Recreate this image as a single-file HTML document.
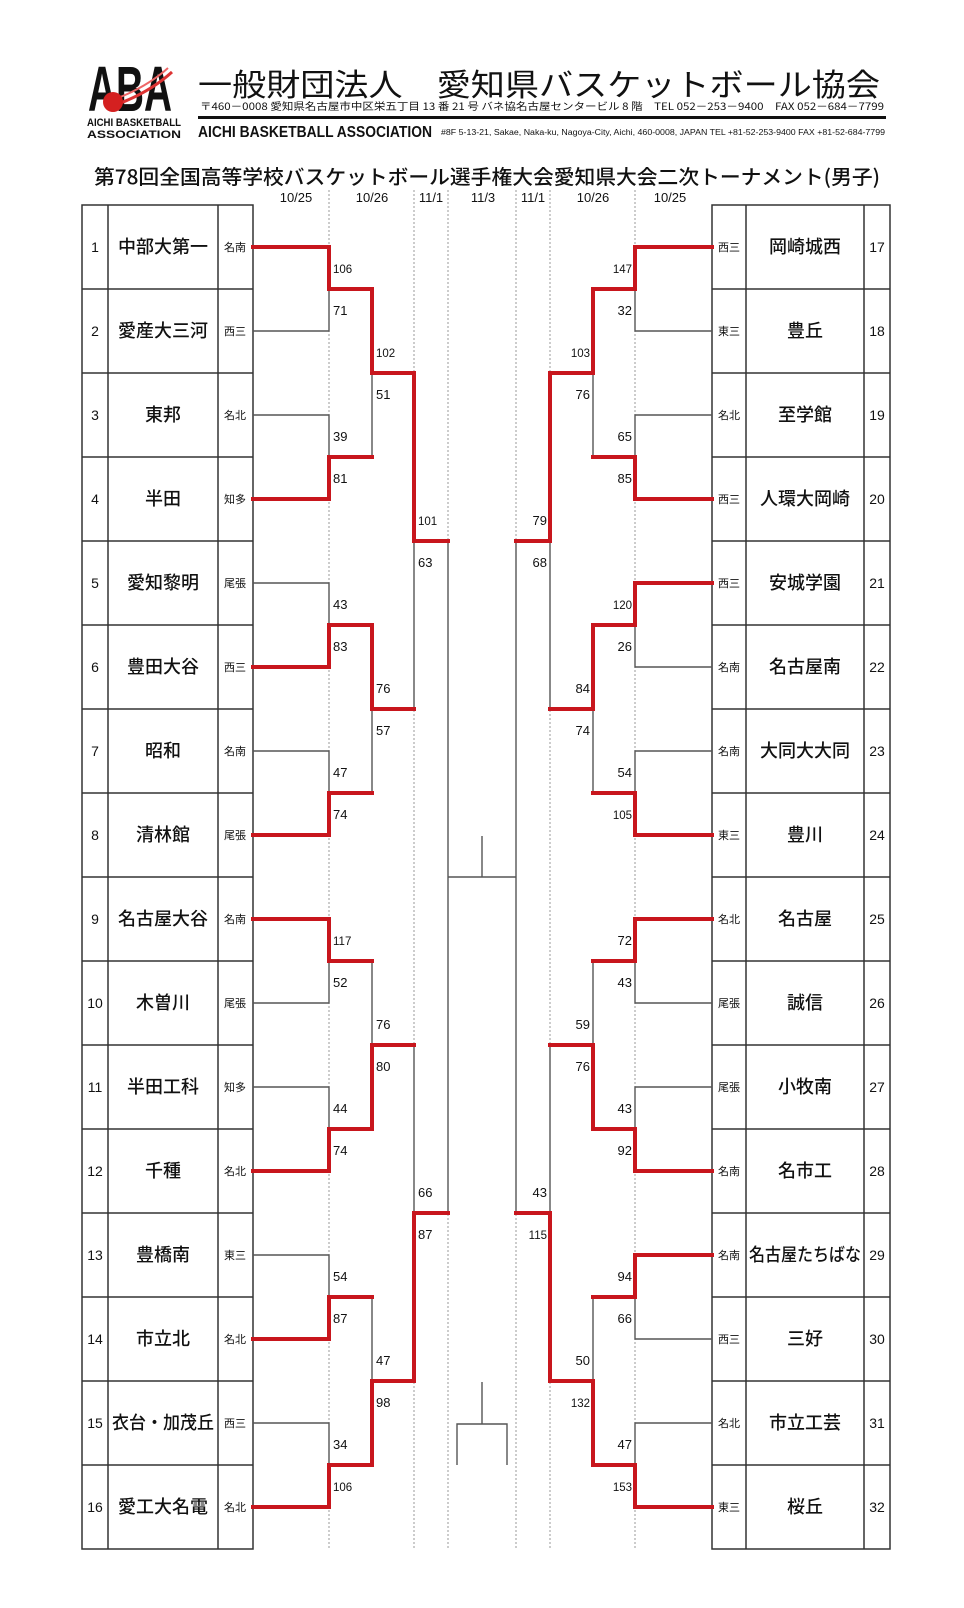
<!DOCTYPE html>
<html><head><meta charset="utf-8"><style>
html,body{margin:0;padding:0;background:#fff;}
svg{display:block;}
text{font-family:"Liberation Sans","Noto Sans CJK JP",sans-serif;fill:#111;}
.j{font-family:"Noto Sans CJK JP","WenQuanYi Zen Hei",sans-serif;}
.g{stroke:#555;stroke-width:1.4;fill:none;}
.r{stroke:#c8161d;stroke-width:4;fill:none;stroke-linecap:square;}
.d{stroke:#999;stroke-width:1;stroke-dasharray:2,2;}
.t{stroke:#333;stroke-width:1.5;fill:none;}
.nm{font-size:18px;font-weight:500;text-anchor:middle;}
.no{font-size:14px;text-anchor:middle;}
.rg{font-size:11px;text-anchor:middle;}
.s{font-size:13px;}
.s3{font-size:11.5px;}
.e{text-anchor:end;}
.h{font-size:13px;text-anchor:middle;}
</style></head><body>
<svg width="964" height="1608" viewBox="0 0 964 1608" xmlns="http://www.w3.org/2000/svg">
<!-- logo -->
<text x="88" y="111" font-size="64" font-weight="bold" textLength="84" lengthAdjust="spacingAndGlyphs" style="font-family:'Liberation Sans',sans-serif">ABA</text>
<path d="M118 104 Q150 92 172 72" stroke="#d33" stroke-width="3" fill="none"/>
<path d="M118 98 Q148 86 168 68" stroke="#e66" stroke-width="2" fill="none"/>
<circle cx="113" cy="102" r="10" fill="#d42020"/>
<text x="87" y="126" font-size="11" font-weight="bold" textLength="94" lengthAdjust="spacingAndGlyphs">AICHI BASKETBALL</text>
<text x="87" y="138" font-size="11" font-weight="bold" textLength="94" lengthAdjust="spacingAndGlyphs">ASSOCIATION</text>
<!-- header -->
<text class="j" x="198" y="96" font-size="31" textLength="682" lengthAdjust="spacingAndGlyphs">一般財団法人　愛知県バスケットボール協会</text>
<text class="j" x="200" y="110" font-size="10" textLength="684" lengthAdjust="spacingAndGlyphs">〒460－0008 愛知県名古屋市中区栄五丁目 13 番 21 号 バネ協名古屋センタービル 8 階　TEL 052－253－9400　FAX 052－684－7799</text>
<rect x="198" y="116" width="688" height="3" fill="#111"/>
<text x="198" y="137" font-size="16" font-weight="bold" textLength="234" lengthAdjust="spacingAndGlyphs">AICHI BASKETBALL ASSOCIATION</text>
<text x="441" y="135" font-size="8" textLength="444" lengthAdjust="spacingAndGlyphs">#8F 5-13-21, Sakae, Naka-ku, Nagoya-City, Aichi, 460-0008, JAPAN TEL +81-52-253-9400 FAX +81-52-684-7799</text>
<text class="j" x="94" y="184" font-size="20" font-weight="500" textLength="786" lengthAdjust="spacingAndGlyphs">第78回全国高等学校バスケットボール選手権大会愛知県大会二次トーナメント(男子)</text>
<text class="h" x="296" y="202">10/25</text>
<text class="h" x="372" y="202">10/26</text>
<text class="h" x="431" y="202">11/1</text>
<text class="h" x="483" y="202">11/3</text>
<text class="h" x="533" y="202">11/1</text>
<text class="h" x="593" y="202">10/26</text>
<text class="h" x="670" y="202">10/25</text>
<!-- dotted -->
<line class="d" x1="329" y1="190" x2="329" y2="1550"/>
<line class="d" x1="414" y1="190" x2="414" y2="1550"/>
<line class="d" x1="448" y1="190" x2="448" y2="1550"/>
<line class="d" x1="516" y1="190" x2="516" y2="1550"/>
<line class="d" x1="550" y1="190" x2="550" y2="1550"/>
<line class="d" x1="635" y1="190" x2="635" y2="1550"/>
<!-- left table -->
<rect class="t" x="82" y="205" width="171" height="1344"/>
<line class="t" x1="108" y1="205" x2="108" y2="1549"/>
<line class="t" x1="218" y1="205" x2="218" y2="1549"/>
<path class="t" d="M82 289H253M82 373H253M82 457H253M82 541H253M82 625H253M82 709H253M82 793H253M82 877H253M82 961H253M82 1045H253M82 1129H253M82 1213H253M82 1297H253M82 1381H253M82 1465H253"/>
<!-- right table -->
<rect class="t" x="712" y="205" width="178" height="1344"/>
<line class="t" x1="746" y1="205" x2="746" y2="1549"/>
<line class="t" x1="864" y1="205" x2="864" y2="1549"/>
<path class="t" d="M712 289H890M712 373H890M712 457H890M712 541H890M712 625H890M712 709H890M712 793H890M712 877H890M712 961H890M712 1045H890M712 1129H890M712 1213H890M712 1297H890M712 1381H890M712 1465H890"/>
<!-- left texts -->
<g class="j">
<text class="no" x="95" y="252">1</text><text class="nm" x="163" y="253">中部大第一</text><text class="rg" x="235" y="251">名南</text>
<text class="no" x="95" y="336">2</text><text class="nm" x="163" y="337">愛産大三河</text><text class="rg" x="235" y="335">西三</text>
<text class="no" x="95" y="420">3</text><text class="nm" x="163" y="421">東邦</text><text class="rg" x="235" y="419">名北</text>
<text class="no" x="95" y="504">4</text><text class="nm" x="163" y="505">半田</text><text class="rg" x="235" y="503">知多</text>
<text class="no" x="95" y="588">5</text><text class="nm" x="163" y="589">愛知黎明</text><text class="rg" x="235" y="587">尾張</text>
<text class="no" x="95" y="672">6</text><text class="nm" x="163" y="673">豊田大谷</text><text class="rg" x="235" y="671">西三</text>
<text class="no" x="95" y="756">7</text><text class="nm" x="163" y="757">昭和</text><text class="rg" x="235" y="755">名南</text>
<text class="no" x="95" y="840">8</text><text class="nm" x="163" y="841">清林館</text><text class="rg" x="235" y="839">尾張</text>
<text class="no" x="95" y="924">9</text><text class="nm" x="163" y="925">名古屋大谷</text><text class="rg" x="235" y="923">名南</text>
<text class="no" x="95" y="1008">10</text><text class="nm" x="163" y="1009">木曽川</text><text class="rg" x="235" y="1007">尾張</text>
<text class="no" x="95" y="1092">11</text><text class="nm" x="163" y="1093">半田工科</text><text class="rg" x="235" y="1091">知多</text>
<text class="no" x="95" y="1176">12</text><text class="nm" x="163" y="1177">千種</text><text class="rg" x="235" y="1175">名北</text>
<text class="no" x="95" y="1260">13</text><text class="nm" x="163" y="1261">豊橋南</text><text class="rg" x="235" y="1259">東三</text>
<text class="no" x="95" y="1344">14</text><text class="nm" x="163" y="1345">市立北</text><text class="rg" x="235" y="1343">名北</text>
<text class="no" x="95" y="1428">15</text><text class="nm" x="163" y="1429" textLength="102" lengthAdjust="spacingAndGlyphs">衣台・加茂丘</text><text class="rg" x="235" y="1427">西三</text>
<text class="no" x="95" y="1512">16</text><text class="nm" x="163" y="1513">愛工大名電</text><text class="rg" x="235" y="1511">名北</text>
<!-- right texts -->
<text class="rg" x="729" y="251">西三</text><text class="nm" x="805" y="253">岡崎城西</text><text class="no" x="877" y="252">17</text>
<text class="rg" x="729" y="335">東三</text><text class="nm" x="805" y="337">豊丘</text><text class="no" x="877" y="336">18</text>
<text class="rg" x="729" y="419">名北</text><text class="nm" x="805" y="421">至学館</text><text class="no" x="877" y="420">19</text>
<text class="rg" x="729" y="503">西三</text><text class="nm" x="805" y="505">人環大岡崎</text><text class="no" x="877" y="504">20</text>
<text class="rg" x="729" y="587">西三</text><text class="nm" x="805" y="589">安城学園</text><text class="no" x="877" y="588">21</text>
<text class="rg" x="729" y="671">名南</text><text class="nm" x="805" y="673">名古屋南</text><text class="no" x="877" y="672">22</text>
<text class="rg" x="729" y="755">名南</text><text class="nm" x="805" y="757">大同大大同</text><text class="no" x="877" y="756">23</text>
<text class="rg" x="729" y="839">東三</text><text class="nm" x="805" y="841">豊川</text><text class="no" x="877" y="840">24</text>
<text class="rg" x="729" y="923">名北</text><text class="nm" x="805" y="925">名古屋</text><text class="no" x="877" y="924">25</text>
<text class="rg" x="729" y="1007">尾張</text><text class="nm" x="805" y="1009">誠信</text><text class="no" x="877" y="1008">26</text>
<text class="rg" x="729" y="1091">尾張</text><text class="nm" x="805" y="1093">小牧南</text><text class="no" x="877" y="1092">27</text>
<text class="rg" x="729" y="1175">名南</text><text class="nm" x="805" y="1177">名市工</text><text class="no" x="877" y="1176">28</text>
<text class="rg" x="729" y="1259">名南</text><text class="nm" x="805" y="1261" textLength="112" lengthAdjust="spacingAndGlyphs">名古屋たちばな</text><text class="no" x="877" y="1260">29</text>
<text class="rg" x="729" y="1343">西三</text><text class="nm" x="805" y="1345">三好</text><text class="no" x="877" y="1344">30</text>
<text class="rg" x="729" y="1427">名北</text><text class="nm" x="805" y="1429">市立工芸</text><text class="no" x="877" y="1428">31</text>
<text class="rg" x="729" y="1511">東三</text><text class="nm" x="805" y="1513">桜丘</text><text class="no" x="877" y="1512">32</text>
</g>
<!-- LEFT bracket gray -->
<path class="g" d="M253 331H329V289 M253 415H329V457 M253 583H329V625 M253 751H329V793 M253 1003H329V961 M253 1087H329V1129 M253 1255H329V1297 M253 1423H329V1465
M372 373V457 M372 709V793 M372 961V1045 M372 1297V1381
M414 541V709 M414 1045V1213
M448 541V1213 M448 877H516 M482 836V877
M482 1382V1424 M457 1465V1424H507V1465"/>
<!-- LEFT bracket red -->
<path class="r" d="M253 247H329V289H372V373H414V541H448
M253 499H329V457H372
M253 667H329V625H372V709H414
M253 835H329V793H372
M253 919H329V961H372
M253 1171H329V1129H372V1045H414
M253 1339H329V1297H372
M253 1507H329V1465H372V1381H414V1213H448"/>
<!-- RIGHT bracket gray -->
<path class="g" d="M712 331H635V289 M712 415H635V457 M712 667H635V625 M712 751H635V793 M712 1003H635V961 M712 1087H635V1129 M712 1339H635V1297 M712 1423H635V1465
M593 373V457 M593 709V793 M593 961V1045 M593 1297V1381
M550 541V709 M550 1045V1213
M516 541V1213"/>
<!-- RIGHT bracket red -->
<path class="r" d="M712 247H635V289H593V373H550V541H516
M712 499H635V457H593
M712 583H635V625H593V709H550
M712 835H635V793H593
M712 919H635V961H593
M712 1171H635V1129H593V1045H550
M712 1255H635V1297H593
M712 1507H635V1465H593V1381H550V1213H516"/>
<!-- LEFT scores -->
<g>
<text class="s3" x="333" y="273">106</text><text class="s" x="333" y="315">71</text>
<text class="s" x="333" y="441">39</text><text class="s" x="333" y="483">81</text>
<text class="s" x="333" y="609">43</text><text class="s" x="333" y="651">83</text>
<text class="s" x="333" y="777">47</text><text class="s" x="333" y="819">74</text>
<text class="s3" x="333" y="945">117</text><text class="s" x="333" y="987">52</text>
<text class="s" x="333" y="1113">44</text><text class="s" x="333" y="1155">74</text>
<text class="s" x="333" y="1281">54</text><text class="s" x="333" y="1323">87</text>
<text class="s" x="333" y="1449">34</text><text class="s3" x="333" y="1491">106</text>
<text class="s3" x="376" y="357">102</text><text class="s" x="376" y="399">51</text>
<text class="s" x="376" y="693">76</text><text class="s" x="376" y="735">57</text>
<text class="s" x="376" y="1029">76</text><text class="s" x="376" y="1071">80</text>
<text class="s" x="376" y="1365">47</text><text class="s" x="376" y="1407">98</text>
<text class="s3" x="418" y="525">101</text><text class="s" x="418" y="567">63</text>
<text class="s" x="418" y="1197">66</text><text class="s" x="418" y="1239">87</text>
<!-- RIGHT scores -->
<text class="s3 e" x="632" y="273">147</text><text class="s e" x="632" y="315">32</text>
<text class="s e" x="632" y="441">65</text><text class="s e" x="632" y="483">85</text>
<text class="s3 e" x="632" y="609">120</text><text class="s e" x="632" y="651">26</text>
<text class="s e" x="632" y="777">54</text><text class="s3 e" x="632" y="819">105</text>
<text class="s e" x="632" y="945">72</text><text class="s e" x="632" y="987">43</text>
<text class="s e" x="632" y="1113">43</text><text class="s e" x="632" y="1155">92</text>
<text class="s e" x="632" y="1281">94</text><text class="s e" x="632" y="1323">66</text>
<text class="s e" x="632" y="1449">47</text><text class="s3 e" x="632" y="1491">153</text>
<text class="s3 e" x="590" y="357">103</text><text class="s e" x="590" y="399">76</text>
<text class="s e" x="590" y="693">84</text><text class="s e" x="590" y="735">74</text>
<text class="s e" x="590" y="1029">59</text><text class="s e" x="590" y="1071">76</text>
<text class="s e" x="590" y="1365">50</text><text class="s3 e" x="590" y="1407">132</text>
<text class="s e" x="547" y="525">79</text><text class="s e" x="547" y="567">68</text>
<text class="s e" x="547" y="1197">43</text><text class="s3 e" x="547" y="1239">115</text>
</g>
</svg>
</body></html>
